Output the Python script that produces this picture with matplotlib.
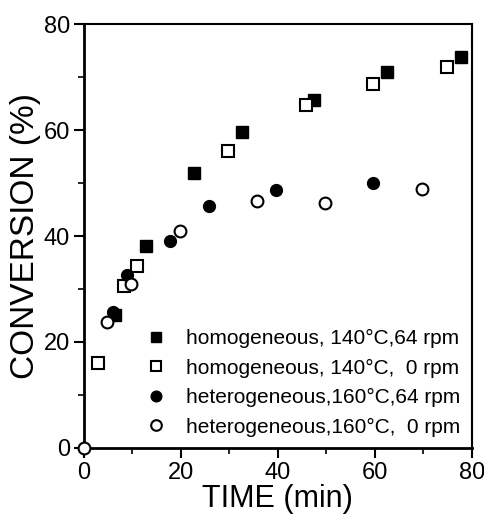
import matplotlib
matplotlib.use("Agg")
import matplotlib.pyplot as plt
from matplotlib.ticker import MultipleLocator

plt.rcParams['font.family'] = ['Liberation Sans', 'DejaVu Sans']

# homogeneous, 140°C, 64 rpm
homo64_t = [6.4, 12.8, 22.7, 32.6, 47.4, 62.5, 77.7]
homo64_c = [25.0, 38.2, 51.8, 59.7, 65.6, 70.9, 73.7]
# homogeneous, 140°C, 0 rpm
homo0_t = [2.9, 8.2, 10.9, 29.8, 45.7, 59.7, 74.8]
homo0_c = [16.1, 30.6, 34.4, 56.1, 64.8, 68.7, 71.9]
# heterogeneous, 160°C, 64 rpm
het64_t = [6.0, 8.8, 17.7, 25.8, 39.6, 59.7]
het64_c = [25.6, 32.7, 39.1, 45.6, 48.6, 50.0]
# heterogeneous, 160°C, 0 rpm
het0_t = [0.0, 4.7, 9.8, 19.8, 35.7, 49.7, 69.7]
het0_c = [0.0, 23.8, 30.9, 41.0, 46.7, 46.3, 48.9]

labels = ['homogeneous, 140°C,64 rpm',
          'homogeneous, 140°C,  0 rpm',
          'heterogeneous,160°C,64 rpm',
          'heterogeneous,160°C,  0 rpm']

fig = plt.figure(figsize=(4.85, 5.17), dpi=100)
ax = fig.add_axes([0.173, 0.1335, 0.80, 0.82])

ms = 8.5
ax.plot(homo64_t, homo64_c, 's', color='black', ms=ms, label=labels[0], clip_on=False)
ax.plot(homo0_t, homo0_c, 's', mfc='white', mec='black', mew=1.5, ms=ms, label=labels[1], clip_on=False)
ax.plot(het64_t, het64_c, 'o', color='black', ms=ms, label=labels[2], clip_on=False)
ax.plot(het0_t, het0_c, 'o', mfc='white', mec='black', mew=1.5, ms=ms, label=labels[3], clip_on=False, zorder=5)

ax.set_xlim(0, 80)
ax.set_ylim(0, 80)
ax.xaxis.set_major_locator(MultipleLocator(20))
ax.xaxis.set_minor_locator(MultipleLocator(10))
ax.yaxis.set_major_locator(MultipleLocator(20))
ax.yaxis.set_minor_locator(MultipleLocator(10))
ax.tick_params(which='major', direction='out', length=7, width=1.5, labelsize=17, pad=3)
ax.tick_params(which='minor', direction='out', length=4, width=1.2)

for side in ['left', 'bottom']:
    ax.spines[side].set_linewidth(2)
for side in ['top', 'right']:
    ax.spines[side].set_linewidth(1.5)

ax.set_xlabel('TIME (min)', fontsize=22, labelpad=0)
ax.set_ylabel('CONVERSION (%)', fontsize=24, labelpad=2)

leg = ax.legend(loc='lower right', frameon=False, fontsize=15, handletextpad=1.0,
                labelspacing=0.5, borderaxespad=0.15, handlelength=0.9,
                markerscale=0.9)

fig.savefig('out.png', dpi=100)
